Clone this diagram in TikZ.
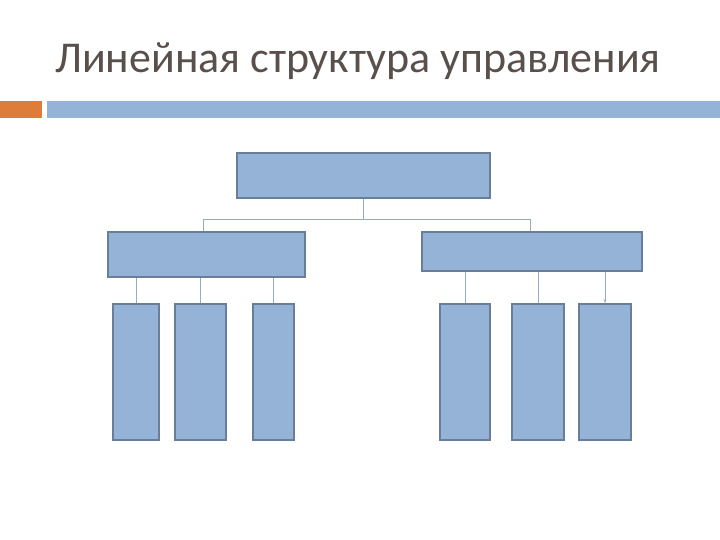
\documentclass[tikz,border=0pt]{standalone}
\usepackage{fontspec}
\setmainfont{Carlito}
\usetikzlibrary{arrows.meta}
\definecolor{boxfill}{RGB}{149,179,215}
\definecolor{boxline}{RGB}{104,126,153}
\definecolor{wire}{RGB}{150,170,195}
\definecolor{titlec}{RGB}{89,80,76}
\definecolor{orangebar}{RGB}{222,124,58}
\begin{document}
\begin{tikzpicture}[x=1pt,y=-1pt,
  blk/.style={draw=boxline,line width=2pt,fill=boxfill,inner sep=0pt,anchor=north west},
  wirec/.style={draw=wire,line width=0.7pt}]
\useasboundingbox (0,0) rectangle (720,540);
\node[anchor=base west,text=titlec,font=\fontsize{44}{50}\selectfont,inner sep=0pt] (title) at (55,73) {Линейная структура управления};
\fill[orangebar] (0,101) rectangle (42,118);
\fill[boxfill] (47,101) rectangle (720,118);
\node[blk,minimum width=253pt,minimum height=45pt] (top) at (236,152) {};
\node[blk,minimum width=197pt,minimum height=45pt] (ml) at (107,231) {};
\node[blk,minimum width=220pt,minimum height=39pt] (mr) at (421,231) {};
\node[blk,minimum width=46pt,minimum height=136pt] (l1) at (112,303) {};
\node[blk,minimum width=51pt,minimum height=136pt] (l2) at (174,303) {};
\node[blk,minimum width=41pt,minimum height=136pt] (l3) at (252,303) {};
\node[blk,minimum width=50pt,minimum height=136pt] (r1) at (439,303) {};
\node[blk,minimum width=52pt,minimum height=136pt] (r2) at (511,303) {};
\node[blk,minimum width=52pt,minimum height=136pt] (r3) at (578,303) {};
\coordinate (busL) at (203,219);
\coordinate (busR) at (530,219);
\draw[wirec] (busL) -- (busR);
\draw[wirec] (top.south) -- (top.south |- busL);
\draw[wirec] (busL) -- (busL |- ml.north);
\draw[wirec] (busR) -- (busR |- mr.north);
\foreach \s in {l1,l2,l3}{\draw[wirec] (\s.north |- ml.south) -- (\s.north);}
\draw[wirec] (r1.north |- mr.south) -- (r1.north);
\draw[wirec] (r2.north |- mr.south) -- (r2.north);
\draw[wirec,-{Stealth[length=4pt,width=3pt]}] (r3.north |- mr.south) -- (r3.north);
\end{tikzpicture}
\end{document}
